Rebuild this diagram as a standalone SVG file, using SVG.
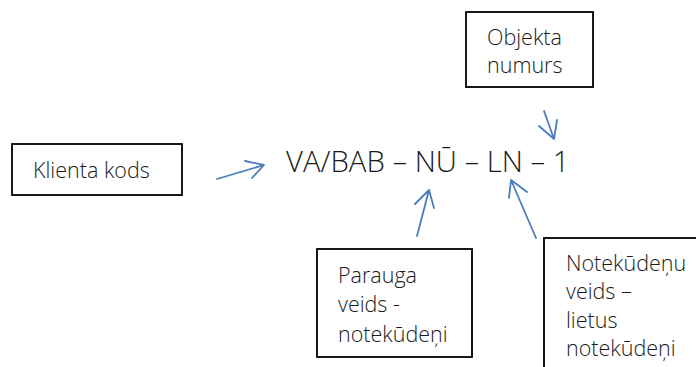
<svg xmlns="http://www.w3.org/2000/svg" width="696" height="367" viewBox="0 0 696 367">
<style>
.box{fill:#fff;stroke:#000;stroke-width:1.8}
.t{font-family:"Open Sans","Liberation Sans",sans-serif;font-size:21.5px;font-weight:300;fill:#1a1a1a}
.main{font-family:"Open Sans","Liberation Sans",sans-serif;font-size:29.3px;font-weight:300;fill:#1a1a1a}
.c{fill:none;stroke:#4a7ebb;stroke-width:1.8;stroke-linecap:round;stroke-linejoin:round}
</style>
<rect width="696" height="367" fill="#fff"/>
<g id="klienta">
<rect class="box" x="12" y="144" width="170" height="51"/>
<text class="t" x="33" y="178">Klienta kods</text>
</g>
<g id="objekta">
<rect class="box" x="466" y="12" width="127" height="75"/>
<text class="t" x="487" y="45">Objekta</text>
<text class="t" x="487" y="73">numurs</text>
</g>
<g id="code">
<text class="main" x="286" y="172">VA/BAB – NŪ – LN – 1</text>
</g>
<g id="parauga">
<rect class="box" x="317" y="249" width="155" height="108"/>
<text class="t" x="338" y="283">Parauga</text>
<text class="t" x="338" y="312">veids -</text>
<text class="t" x="338" y="342">notekūdeņi</text>
</g>
<g id="notekudenu">
<rect class="box" x="544" y="238" width="160" height="140"/>
<text class="t" x="566" y="271">Notekūdeņu</text>
<text class="t" x="566" y="299">veids –</text>
<text class="t" x="566" y="328">lietus</text>
<text class="t" x="566" y="356">notekūdeņi</text>
</g>
<g id="connectors">
<path class="c" d="M217,179 L264,165 M245,161 L264,165 L252,178"/>
<path class="c" d="M544,111 L554,139 M539,126 L554,139 L557,120"/>
<path class="c" d="M417,236 L429,190 M415,204 L429,190 L434,208"/>
<path class="c" d="M536,238 L511,180 M509,198 L511,180 L527,192"/>
</g>
</svg>
